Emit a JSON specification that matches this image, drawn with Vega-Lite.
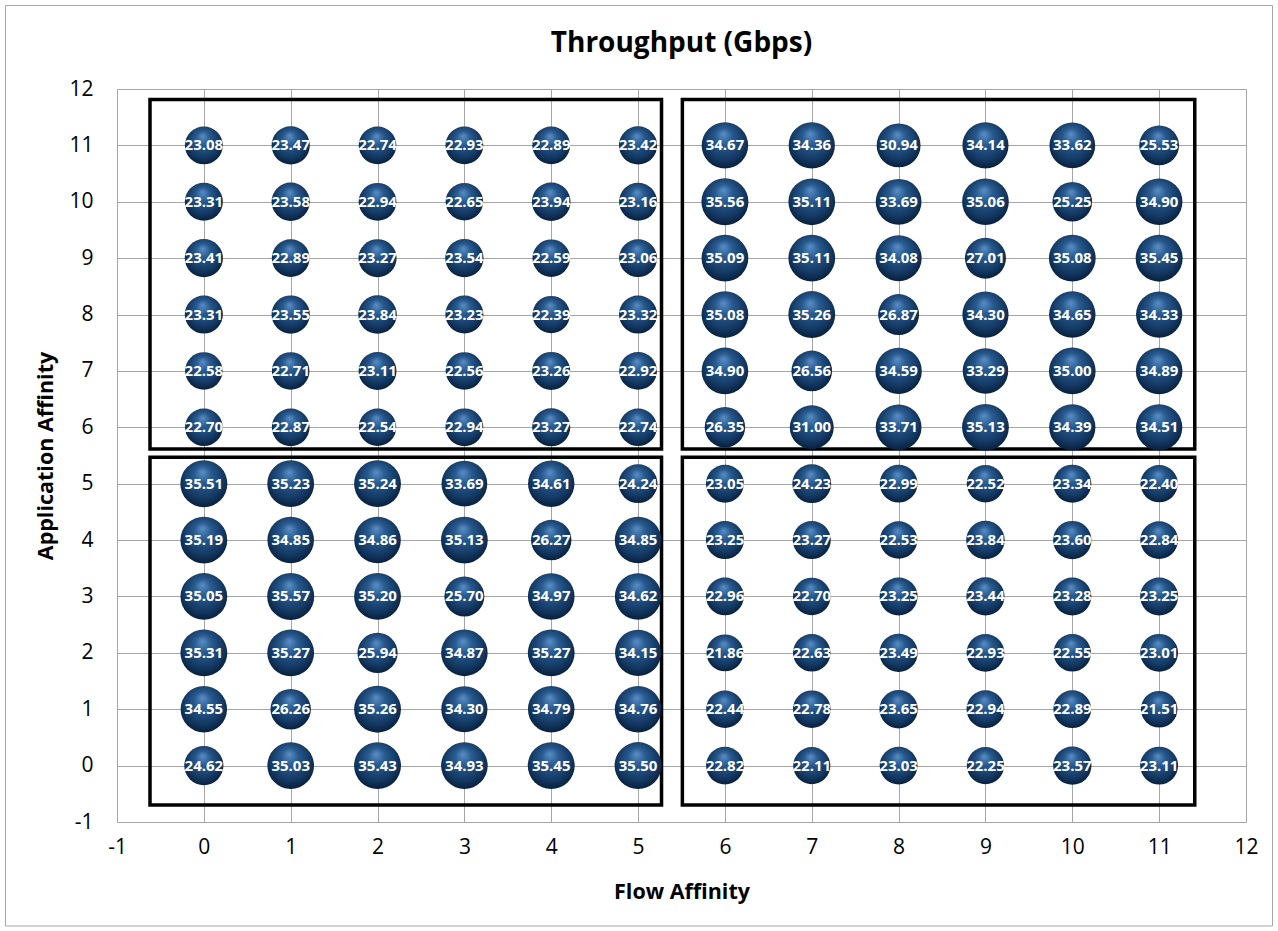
{
  "$schema": "https://vega.github.io/schema/vega-lite/v6.json",
  "width": 1129,
  "height": 733,
  "autosize": {"type": "none"},
  "padding": {"left": 117, "top": 89, "right": 32, "bottom": 109},
  "background": "white",
  "config": {"view": {"stroke": null}, "font": "Open Sans"},
  "title": {"text": "Throughput (Gbps)", "fontSize": 28, "fontWeight": "bold", "color": "#000000", "font": "Open Sans", "offset": 0, "baseline": "middle", "dy": 67},
  "datasets": {
    "bubbles": [
      {"f":0,"a":11,"t":23.08},{"f":1,"a":11,"t":23.47},{"f":2,"a":11,"t":22.74},{"f":3,"a":11,"t":22.93},{"f":4,"a":11,"t":22.89},{"f":5,"a":11,"t":23.42},
      {"f":0,"a":10,"t":23.31},{"f":1,"a":10,"t":23.58},{"f":2,"a":10,"t":22.94},{"f":3,"a":10,"t":22.65},{"f":4,"a":10,"t":23.94},{"f":5,"a":10,"t":23.16},
      {"f":0,"a":9,"t":23.41},{"f":1,"a":9,"t":22.89},{"f":2,"a":9,"t":23.27},{"f":3,"a":9,"t":23.54},{"f":4,"a":9,"t":22.59},{"f":5,"a":9,"t":23.06},
      {"f":0,"a":8,"t":23.31},{"f":1,"a":8,"t":23.55},{"f":2,"a":8,"t":23.84},{"f":3,"a":8,"t":23.23},{"f":4,"a":8,"t":22.39},{"f":5,"a":8,"t":23.32},
      {"f":0,"a":7,"t":22.58},{"f":1,"a":7,"t":22.71},{"f":2,"a":7,"t":23.11},{"f":3,"a":7,"t":22.56},{"f":4,"a":7,"t":23.26},{"f":5,"a":7,"t":22.92},
      {"f":0,"a":6,"t":22.70},{"f":1,"a":6,"t":22.87},{"f":2,"a":6,"t":22.54},{"f":3,"a":6,"t":22.94},{"f":4,"a":6,"t":23.27},{"f":5,"a":6,"t":22.74},
      {"f":6,"a":11,"t":34.67},{"f":7,"a":11,"t":34.36},{"f":8,"a":11,"t":30.94},{"f":9,"a":11,"t":34.14},{"f":10,"a":11,"t":33.62},{"f":11,"a":11,"t":25.53},
      {"f":6,"a":10,"t":35.56},{"f":7,"a":10,"t":35.11},{"f":8,"a":10,"t":33.69},{"f":9,"a":10,"t":35.06},{"f":10,"a":10,"t":25.25},{"f":11,"a":10,"t":34.90},
      {"f":6,"a":9,"t":35.09},{"f":7,"a":9,"t":35.11},{"f":8,"a":9,"t":34.08},{"f":9,"a":9,"t":27.01},{"f":10,"a":9,"t":35.08},{"f":11,"a":9,"t":35.45},
      {"f":6,"a":8,"t":35.08},{"f":7,"a":8,"t":35.26},{"f":8,"a":8,"t":26.87},{"f":9,"a":8,"t":34.30},{"f":10,"a":8,"t":34.65},{"f":11,"a":8,"t":34.33},
      {"f":6,"a":7,"t":34.90},{"f":7,"a":7,"t":26.56},{"f":8,"a":7,"t":34.59},{"f":9,"a":7,"t":33.29},{"f":10,"a":7,"t":35.00},{"f":11,"a":7,"t":34.89},
      {"f":6,"a":6,"t":26.35},{"f":7,"a":6,"t":31.00},{"f":8,"a":6,"t":33.71},{"f":9,"a":6,"t":35.13},{"f":10,"a":6,"t":34.39},{"f":11,"a":6,"t":34.51},
      {"f":0,"a":5,"t":35.51},{"f":1,"a":5,"t":35.23},{"f":2,"a":5,"t":35.24},{"f":3,"a":5,"t":33.69},{"f":4,"a":5,"t":34.61},{"f":5,"a":5,"t":24.24},
      {"f":0,"a":4,"t":35.19},{"f":1,"a":4,"t":34.85},{"f":2,"a":4,"t":34.86},{"f":3,"a":4,"t":35.13},{"f":4,"a":4,"t":26.27},{"f":5,"a":4,"t":34.85},
      {"f":0,"a":3,"t":35.05},{"f":1,"a":3,"t":35.57},{"f":2,"a":3,"t":35.20},{"f":3,"a":3,"t":25.70},{"f":4,"a":3,"t":34.97},{"f":5,"a":3,"t":34.62},
      {"f":0,"a":2,"t":35.31},{"f":1,"a":2,"t":35.27},{"f":2,"a":2,"t":25.94},{"f":3,"a":2,"t":34.87},{"f":4,"a":2,"t":35.27},{"f":5,"a":2,"t":34.15},
      {"f":0,"a":1,"t":34.55},{"f":1,"a":1,"t":26.26},{"f":2,"a":1,"t":35.26},{"f":3,"a":1,"t":34.30},{"f":4,"a":1,"t":34.79},{"f":5,"a":1,"t":34.76},
      {"f":0,"a":0,"t":24.62},{"f":1,"a":0,"t":35.03},{"f":2,"a":0,"t":35.43},{"f":3,"a":0,"t":34.93},{"f":4,"a":0,"t":35.45},{"f":5,"a":0,"t":35.50},
      {"f":6,"a":5,"t":23.05},{"f":7,"a":5,"t":24.23},{"f":8,"a":5,"t":22.99},{"f":9,"a":5,"t":22.52},{"f":10,"a":5,"t":23.34},{"f":11,"a":5,"t":22.40},
      {"f":6,"a":4,"t":23.25},{"f":7,"a":4,"t":23.27},{"f":8,"a":4,"t":22.53},{"f":9,"a":4,"t":23.84},{"f":10,"a":4,"t":23.60},{"f":11,"a":4,"t":22.84},
      {"f":6,"a":3,"t":22.96},{"f":7,"a":3,"t":22.70},{"f":8,"a":3,"t":23.25},{"f":9,"a":3,"t":23.44},{"f":10,"a":3,"t":23.28},{"f":11,"a":3,"t":23.25},
      {"f":6,"a":2,"t":21.86},{"f":7,"a":2,"t":22.63},{"f":8,"a":2,"t":23.49},{"f":9,"a":2,"t":22.93},{"f":10,"a":2,"t":22.55},{"f":11,"a":2,"t":23.01},
      {"f":6,"a":1,"t":22.44},{"f":7,"a":1,"t":22.78},{"f":8,"a":1,"t":23.65},{"f":9,"a":1,"t":22.94},{"f":10,"a":1,"t":22.89},{"f":11,"a":1,"t":21.51},
      {"f":6,"a":0,"t":22.82},{"f":7,"a":0,"t":22.11},{"f":8,"a":0,"t":23.03},{"f":9,"a":0,"t":22.25},{"f":10,"a":0,"t":23.57},{"f":11,"a":0,"t":23.11}
    ],
    "boxes": [
      {"x1": -0.62, "x2": 5.27, "y1": 5.615, "y2": 11.815},
      {"x1": 5.51, "x2": 11.41, "y1": 5.615, "y2": 11.815},
      {"x1": -0.62, "x2": 5.27, "y1": -0.70, "y2": 5.47},
      {"x1": 5.51, "x2": 11.41, "y1": -0.70, "y2": 5.47}
    ],
    "frame": [
      {"x1": -2.284, "x2": 12.305, "y1": -2.844, "y2": 13.481}
    ]
  },
  "layer": [
    {
      "data": {"name": "frame"},
      "mark": {"type": "rect", "fill": "transparent", "stroke": "#a6a6a6", "strokeWidth": 1, "clip": false},
      "encoding": {
        "x": {"field": "x1", "type": "quantitative", "title": "Flow Affinity", "scale": {"domain": [-1, 12], "nice": false, "zero": false}},
        "x2": {"field": "x2"},
        "y": {"field": "y1", "type": "quantitative", "title": "Application Affinity", "scale": {"domain": [-1, 12], "nice": false, "zero": false}},
        "y2": {"field": "y2"}
      }
    },
    {
      "data": {"name": "boxes"},
      "mark": {"type": "rect", "fill": "transparent", "stroke": "#000000", "strokeWidth": 3.5},
      "encoding": {
        "x": {"field": "x1", "type": "quantitative", "title": "Flow Affinity"},
        "x2": {"field": "x2"},
        "y": {"field": "y1", "type": "quantitative", "title": "Application Affinity"},
        "y2": {"field": "y2"}
      }
    },
    {
      "data": {"name": "bubbles"},
      "mark": {
        "type": "circle",
        "opacity": 1,
        "color": {
          "gradient": "radial",
          "x1": 0.47, "y1": 0.25, "r1": 0,
          "x2": 0.5, "y2": 0.45, "r2": 0.62,
          "stops": [
            {"offset": 0, "color": "#5a8ec6"},
            {"offset": 0.3, "color": "#285a8f"},
            {"offset": 0.7, "color": "#133862"},
            {"offset": 1, "color": "#06162a"}
          ]
        }
      },
      "encoding": {
        "x": {
          "field": "f", "type": "quantitative", "title": "Flow Affinity",
          "axis": {
            "values": [-1,0,1,2,3,4,5,6,7,8,9,10,11,12], "labelExpr": "'' + datum.value",
            "grid": true, "gridColor": "#a6a6a6", "gridWidth": 1, "gridOpacity": 1,
            "domain": false, "ticks": false, "labelFontSize": 21, "labelColor": "#000000", "labelPadding": 14,
            "labelFont": "Open Sans", "labelFlush": false, "labelOverlap": false,
            "titleFontSize": 21.5, "titleFontWeight": "bold", "titleColor": "#000000", "titleFont": "Open Sans", "titlePadding": 24
          }
        },
        "y": {
          "field": "a", "type": "quantitative", "title": "Application Affinity",
          "axis": {
            "values": [-1,0,1,2,3,4,5,6,7,8,9,10,11,12], "labelExpr": "'' + datum.value",
            "grid": true, "gridColor": "#a6a6a6", "gridWidth": 1, "gridOpacity": 1,
            "domain": false, "ticks": false, "labelFontSize": 21, "labelColor": "#000000", "labelPadding": 24,
            "labelFont": "Open Sans", "labelFlush": false, "labelOverlap": false,
            "titleFontSize": 21.5, "titleFontWeight": "bold", "titleColor": "#000000", "titleFont": "Open Sans", "titlePadding": 11
          }
        },
        "size": {"field": "t", "type": "quantitative", "scale": {"type": "linear", "domain": [0, 40], "range": [0, 2489], "zero": true}, "legend": null}
      }
    },
    {
      "data": {"name": "bubbles"},
      "mark": {"type": "text", "color": "#ffffff", "fontWeight": "bold", "fontSize": 15, "font": "Open Sans", "align": "center", "baseline": "middle"},
      "encoding": {
        "x": {"field": "f", "type": "quantitative", "title": "Flow Affinity"},
        "y": {"field": "a", "type": "quantitative", "title": "Application Affinity"},
        "text": {"field": "t", "type": "quantitative", "format": ".2f"}
      }
    }
  ]
}
